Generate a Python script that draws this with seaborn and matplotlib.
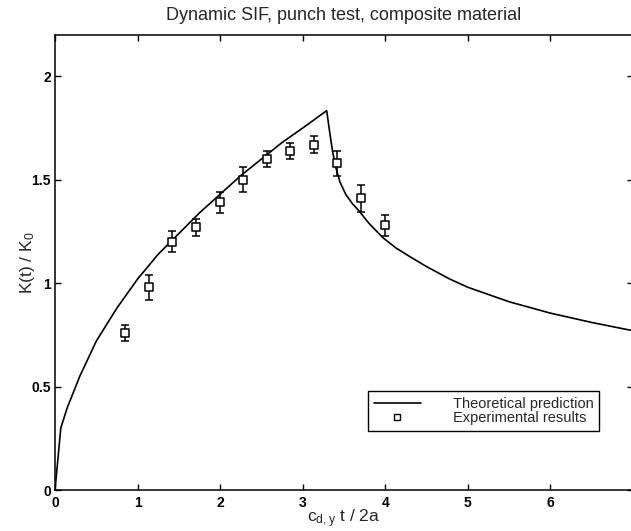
import matplotlib
matplotlib.use("Agg")
import matplotlib.pyplot as plt
import seaborn as sns
import pandas as pd
from matplotlib.lines import Line2D

# Theoretical prediction of the normalised dynamic SIF
theory_t = [0.00, 0.07, 0.15, 0.30, 0.50, 0.75, 1.00, 1.25, 1.50, 1.75, 2.00,
            2.25, 2.50, 2.75, 3.00, 3.29, 3.33, 3.36, 3.40, 3.45, 3.52, 3.60,
            3.68, 3.80, 3.97, 4.13, 4.29, 4.50, 4.78, 5.00, 5.50, 6.00, 6.50,
            7.00]
theory_k = [0.00, 0.30, 0.40, 0.55, 0.72, 0.88, 1.02, 1.14, 1.24, 1.34, 1.43,
            1.52, 1.60, 1.68, 1.75, 1.834, 1.72, 1.64, 1.56, 1.49, 1.43, 1.385,
            1.35, 1.29, 1.22, 1.17, 1.13, 1.08, 1.02, 0.98, 0.91, 0.855, 0.81,
            0.77]

# Experimental results with error bars
exp_t = [0.85, 1.14, 1.42, 1.71, 2.00, 2.28, 2.57, 2.85, 3.14, 3.42, 3.71, 4.00]
exp_k = [0.76, 0.98, 1.20, 1.27, 1.39, 1.50, 1.60, 1.64, 1.67, 1.58, 1.41, 1.28]
exp_err = [0.04, 0.06, 0.05, 0.04, 0.05, 0.06, 0.04, 0.04, 0.04, 0.06, 0.065, 0.05]

x_ticks = [0, 1, 2, 3, 4, 5, 6]
y_ticks = [0, 0.5, 1, 1.5, 2]
y_tick_labels = ["0", "0.5", "1", "1.5", "2"]

sns.set_theme(style="ticks")
plt.rcParams["font.family"] = ["Liberation Sans", "DejaVu Sans"]
plt.rcParams["mathtext.fontset"] = "custom"
plt.rcParams["mathtext.rm"] = "Liberation Sans"
plt.rcParams["mathtext.it"] = "Liberation Sans"

fig = plt.figure(figsize=(6.31, 5.31), dpi=100)
ax = fig.add_axes([0.0872, 0.0772, 0.916, 0.857])

theory = pd.DataFrame({"t": theory_t, "k": theory_k})
sns.lineplot(data=theory, x="t", y="k", sort=False, estimator=None,
             color="black", linewidth=1.2, ax=ax)

ax.errorbar(exp_t, exp_k, yerr=exp_err, fmt="none", ecolor="black",
            elinewidth=1.1, capsize=3, capthick=1.1)
sns.scatterplot(x=exp_t, y=exp_k, marker="s", s=30, facecolor="white",
                edgecolor="black", linewidth=1.1, ax=ax, zorder=3)

ax.set_xlim(0, 7)
ax.set_ylim(0, 2.2)
ax.set_xticks(x_ticks)
ax.set_yticks(y_ticks)
ax.set_yticklabels(y_tick_labels)
ax.tick_params(direction="in", length=4, width=1.0, top=True, right=True,
               labelsize=10, colors="black")
ax.tick_params(axis="x", pad=4.5)
ax.tick_params(axis="y", pad=3)
for lab in ax.get_xticklabels() + ax.get_yticklabels():
    lab.set_fontweight("bold")
for sp in ax.spines.values():
    sp.set_visible(True)
    sp.set_linewidth(1.1)
    sp.set_color("black")

ax.set_title("Dynamic SIF, punch test, composite material", fontsize=13, pad=11)
ax.set_xlabel(r"$\mathregular{c_{d,y}}$ t / 2a", fontsize=12.5)
ax.set_ylabel(r"K(t) / K$\mathregular{_0}$", fontsize=12.5)
ax.xaxis.set_label_coords(0.5, -0.038)
ax.yaxis.set_label_coords(-0.031, 0.5)

handles = [Line2D([], [], color="black", linewidth=1.2),
           Line2D([], [], color="black", marker="s", markersize=4,
                  markerfacecolor="white", markeredgewidth=1.0, linestyle="none")]
leg = ax.legend(handles, ["Theoretical prediction", "Experimental results"],
                loc="upper left", bbox_to_anchor=(0.5415, 0.2176), borderaxespad=0,
                fontsize=10.5, frameon=True, fancybox=False, framealpha=1,
                edgecolor="black", borderpad=0.4, labelspacing=0.0,
                handlelength=3.2, handletextpad=2.2)
leg.get_frame().set_linewidth(1.0)

fig.savefig("out.png", dpi=100)
